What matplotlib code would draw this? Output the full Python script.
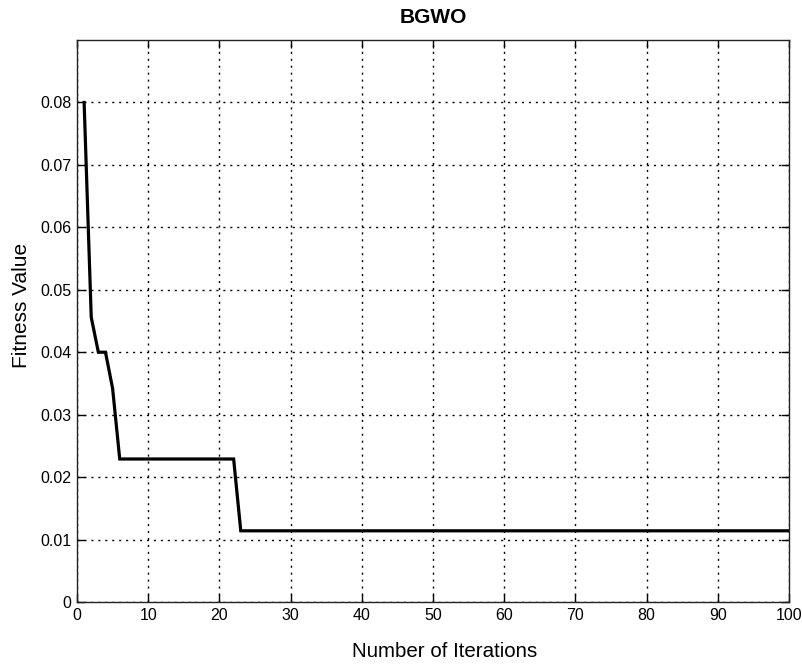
import matplotlib
matplotlib.use("Agg")
import matplotlib.pyplot as plt

# Convergence curve: breakpoints of the best fitness per iteration
iterations = [1, 2, 3, 4, 5, 6, 22, 23, 100]
fitness = [0.080, 0.0456, 0.040, 0.040, 0.0342, 0.0229, 0.0229, 0.0114, 0.0114]

x_ticks = [0, 10, 20, 30, 40, 50, 60, 70, 80, 90, 100]
y_ticks = [0, 0.01, 0.02, 0.03, 0.04, 0.05, 0.06, 0.07, 0.08]
y_tick_labels = ["0", "0.01", "0.02", "0.03", "0.04", "0.05", "0.06", "0.07", "0.08"]

plt.rcParams["font.family"] = ["Liberation Sans", "DejaVu Sans"]

fig = plt.figure(figsize=(8.03, 6.64), dpi=100)
ax = fig.add_axes([77 / 803, 62 / 664, 712 / 803, 562 / 664])

ax.plot(iterations, fitness, color="black", linewidth=2.3, solid_joinstyle="miter")

ax.set_xlim(0, 100)
ax.set_ylim(0, 0.09)
ax.set_xticks(x_ticks)
ax.set_xticklabels([str(t) for t in x_ticks])
ax.set_yticks(y_ticks)
ax.set_yticklabels(y_tick_labels)

ax.grid(True, linestyle=(0, (1.5, 3.5)), color="black", linewidth=1.0)
ax.tick_params(direction="in", length=6, width=1, top=True, right=True,
               labelsize=11.5, pad=4)
for s in ax.spines.values():
    s.set_linewidth(1.0)
    s.set_color("#222222")

ax.set_title("BGWO", fontsize=15, fontweight="bold", pad=12)
ax.set_xlabel("Number of Iterations", fontsize=14.8)
ax.set_ylabel("Fitness Value", fontsize=15)
ax.xaxis.set_label_coords(0.517, -0.071)
ax.yaxis.set_label_coords(-0.064, 0.528)

fig.savefig("out.png", dpi=100)
